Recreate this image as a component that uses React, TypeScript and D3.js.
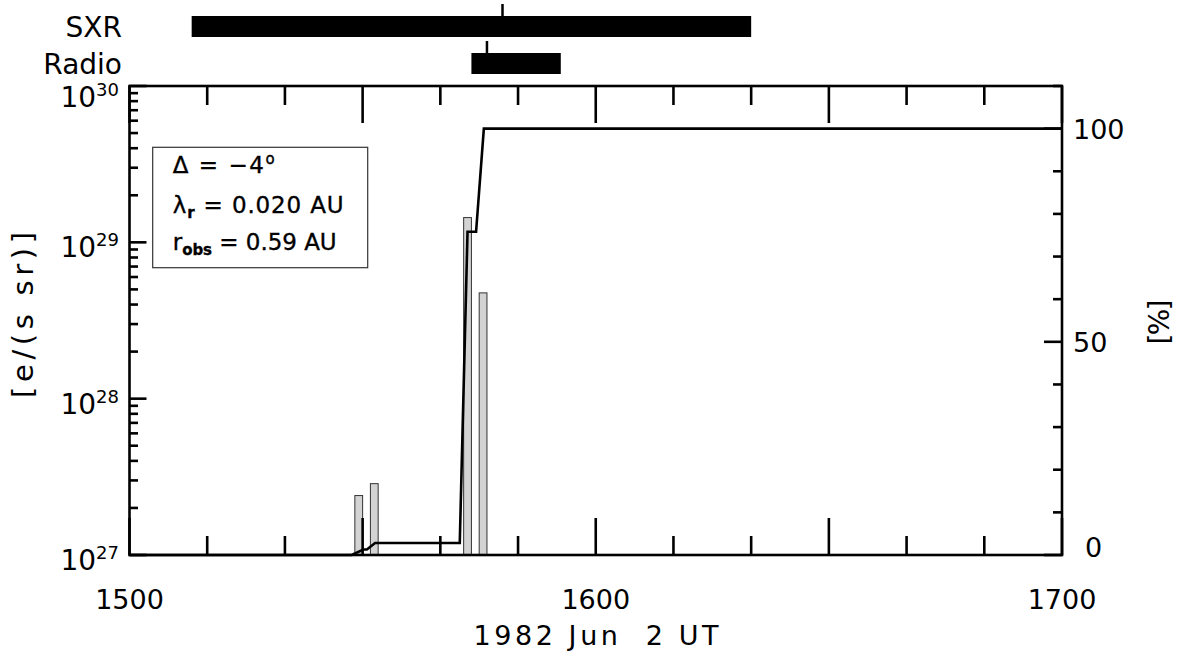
import React from "react";
import * as d3 from "d3";

// times are minutes of day (15:00 = 900)
const binStart = [929, 931, 943, 945];
const binEnd = [930, 932, 944, 946];
const binValue = [2.4e27, 2.86e27, 1.44e29, 4.75e28];

const cumTime = [900, 928.6, 930.1, 930.55, 931.6, 942.5, 943.5, 944.6, 945.6, 1020];
const cumPct = [0, 0, 1.3, 1.3, 2.8, 2.8, 75.8, 75.8, 100, 100];

const eventNames = ["SXR", "Radio"];
const eventStart = [908, 944];
const eventEnd = [980, 955.5];
const eventPeak = [948, 946];

const xTickLabels = ["1500", "1600", "1700"];
const xTickLabelTimes = [900, 960, 1020];
const yDecades = [27, 28, 29, 30];
const pctTicks = [0, 50, 100];

const legendDelta = "−4";
const legendLambda = "0.020";
const legendRobs = "0.59";

const W = 1179;
const H = 654;
const L = 129.5;
const R = 1062;
const T = 86;
const B = 555;

export default function App() {
  const x = d3.scaleLinear().domain([900, 1020]).range([L, R]);
  const y = d3.scaleLog().domain([1e27, 1e30]).range([B, T]);
  const yp = d3.scaleLinear().domain([0, 110]).range([B, T]);
  const font = "'DejaVu Sans', 'Liberation Sans', sans-serif";
  const sw = 2.6;

  const minorLog: number[] = [];
  for (let d = 27; d < 30; d++) for (let k = 2; k <= 9; k++) minorLog.push(k * Math.pow(10, d));
  const xTicks = d3.range(900, 1021, 10);
  const pctMinor = d3.range(0, 111, 10);

  const line = d3
    .line<number>()
    .x((_, i) => x(cumTime[i]))
    .y((_, i) => yp(cumPct[i]));

  const bandY = [16, 53];
  const bandH = 21;

  return (
    <svg width={W} height={H} style={{ position: "absolute", left: 0, top: 0, background: "#fff" }} fontFamily={font}>
      <rect x={0} y={0} width={W} height={H} fill="#fff" />
      {/* event bars */}
      {eventNames.map((n, i) => (
        <g key={n}>
          <text x={122} y={bandY[i] + bandH / 2 + 10} fontSize={28} textAnchor="end" fill="#000">
            {n}
          </text>
          <rect x={x(eventStart[i])} y={bandY[i]} width={x(eventEnd[i]) - x(eventStart[i])} height={bandH} fill="#000" />
          <line x1={x(eventPeak[i])} x2={x(eventPeak[i])} y1={bandY[i] - 12} y2={bandY[i]} stroke="#000" strokeWidth={2.5} />
        </g>
      ))}

      {/* histogram bars */}
      {binValue.map((v, i) => (
        <rect
          key={i}
          x={x(binStart[i])}
          y={y(v)}
          width={x(binEnd[i]) - x(binStart[i])}
          height={B - y(v)}
          fill="#d3d3d3"
          stroke="#333"
          strokeWidth={1}
        />
      ))}

      {/* cumulative line */}
      <path d={line(cumPct) || ""} fill="none" stroke="#000" strokeWidth={2.6} strokeLinejoin="miter" />

      {/* frame */}
      <rect x={L} y={T} width={R - L} height={B - T} fill="none" stroke="#000" strokeWidth={sw} />

      {/* x ticks */}
      {xTicks.map((t) => {
        const major = (t - 900) % 30 === 0;
        const len = major ? 37 : 19;
        return (
          <g key={t}>
            <line x1={x(t)} x2={x(t)} y1={B} y2={B - len} stroke="#000" strokeWidth={sw} />
            <line x1={x(t)} x2={x(t)} y1={T} y2={T + len} stroke="#000" strokeWidth={sw} />
          </g>
        );
      })}
      {xTickLabels.map((s, i) => (
        <text key={s} x={x(xTickLabelTimes[i])} y={609} fontSize={27} textAnchor="middle">
          {s}
        </text>
      ))}
      <text x={596} y={645} fontSize={27} textAnchor="middle" textLength={245} lengthAdjust="spacing" style={{ whiteSpace: "pre" }}>
        {"1982 Jun  2 UT"}
      </text>

      {/* left log axis */}
      {yDecades.map((d) => (
        <line key={d} x1={L} x2={L + 17} y1={y(Math.pow(10, d))} y2={y(Math.pow(10, d))} stroke="#000" strokeWidth={sw} />
      ))}
      {minorLog.map((v) => (
        <line key={v} x1={L} x2={L + 8.5} y1={y(v)} y2={y(v)} stroke="#000" strokeWidth={sw} />
      ))}
      {yDecades.map((d) => {
        const cy = Math.max(y(Math.pow(10, d)) + 5, T + 11);
        return (
          <text key={d} x={119} y={cy + 10} fontSize={28} textAnchor="end">
            10
            <tspan fontSize={18} dy={-11}>
              {String(d)}
            </tspan>
          </text>
        );
      })}
      <text
        transform={`translate(33,315) rotate(-90)`}
        fontSize={29}
        textAnchor="middle"
        textLength={166}
        lengthAdjust="spacing"
      >
        [e/(s sr)]
      </text>

      {/* right pct axis */}
      {pctMinor.map((p) => {
        const major = p % 50 === 0;
        return (
          <line key={p} x1={R} x2={R - (major ? 18 : 9)} y1={yp(p)} y2={yp(p)} stroke="#000" strokeWidth={sw} />
        );
      })}
      {pctTicks.map((p) => (
        <text key={p} x={p === 0 ? 1085 : 1073} y={Math.min(yp(p) + 10, 557)} fontSize={27} textAnchor="start">
          {String(p)}
        </text>
      ))}
      <text transform={`translate(1169,322) rotate(-90)`} fontSize={28} textAnchor="middle" textLength={45} lengthAdjust="spacing">
        [%]
      </text>

      {/* legend */}
      <rect x={152.7} y={147.3} width={215} height={120.4} fill="#fff" stroke="#333" strokeWidth={1.2} />
      <g fontSize={23} fill="#000" stroke="#000" strokeWidth={0.35}>
        <text x={172.7} y={173} textLength={102} lengthAdjust="spacing" style={{ whiteSpace: "pre" }}>
          {"Δ = " + legendDelta}
          <tspan fontSize={15} dy={-9}>
            o
          </tspan>
        </text>
        <text x={172.7} y={213} textLength={171} lengthAdjust="spacing" style={{ whiteSpace: "pre" }}>
          λ
          <tspan fontSize={15} fontWeight="bold" dy={5}>
            r
          </tspan>
          <tspan dy={-5}>{" = " + legendLambda + " AU"}</tspan>
        </text>
        <text x={172.7} y={250} textLength={164} lengthAdjust="spacing" style={{ whiteSpace: "pre" }}>
          r
          <tspan fontSize={15} fontWeight="bold" dy={5}>
            obs
          </tspan>
          <tspan dy={-5}>{" = " + legendRobs + " AU"}</tspan>
        </text>
      </g>
    </svg>
  );
}
